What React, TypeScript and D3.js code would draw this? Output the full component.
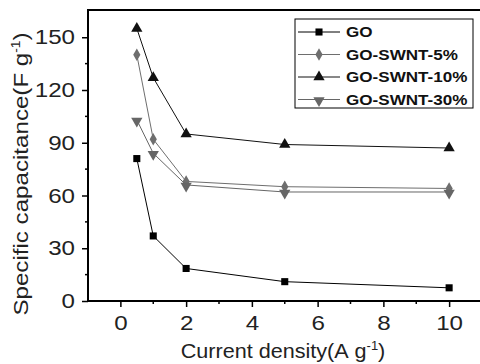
import { useEffect, useRef } from "react";
import * as d3 from "d3";

const currentDensity = [0.5, 1, 2, 5, 10];
const seriesNames = ["GO", "GO-SWNT-5%", "GO-SWNT-10%", "GO-SWNT-30%"];
const goValues = [81, 37, 18.5, 11, 7.5];
const swnt5Values = [140, 92, 68, 65, 64];
const swnt10Values = [155, 127, 95, 89, 87];
const swnt30Values = [103, 84, 66, 62, 62];
const yTicks = [0, 30, 60, 90, 120, 150];
const xTicks = [0, 2, 4, 6, 8, 10];

const App = () => {
    const svgRef = useRef<SVGSVGElement>(null);

    useEffect(() => {
        if (!svgRef.current) return;
        const svg = d3.select(svgRef.current);
        svg.selectAll("*").remove();

        const left = 88, right = 482, top = 10, bottom = 301;
        const font = "'Liberation Sans', Arial, sans-serif";
        const stretch = 1.15;

        const x = d3.scaleLinear().domain([-1, 11]).range([left - 0.5, right]);
        const y = d3.scaleLinear().domain([0, 165.5]).range([bottom, top]);

        const series = [
            { name: seriesNames[0], values: goValues, color: "#000", shape: "square" },
            { name: seriesNames[1], values: swnt5Values, color: "#6e6e6e", shape: "diamond" },
            { name: seriesNames[2], values: swnt10Values, color: "#111", shape: "triangle" },
            { name: seriesNames[3], values: swnt30Values, color: "#666", shape: "down" },
        ];

        const symbolFor = (shape: string) => {
            if (shape === "square") return d3.symbol(d3.symbolSquare, 50)();
            if (shape === "diamond") return d3.symbol(d3.symbolDiamond, 45)();
            return d3.symbol(d3.symbolTriangle, 55)();
        };
        const symbolTransform = (shape: string, cx: number, cy: number) =>
            shape === "down" ? `translate(${cx},${cy + 1}) rotate(180)` : `translate(${cx},${cy})`;

        // frame
        svg.append("line").attr("x1", left).attr("x2", 480).attr("y1", top).attr("y2", top)
            .attr("stroke", "#000").attr("stroke-width", 2);

        // y axis
        const yAxis = svg.append("g").attr("transform", `translate(${left},0)`);
        yAxis.call(d3.axisLeft(y).tickValues(yTicks).tickSize(6).tickPadding(0) as any);
        yAxis.select(".domain").remove();
        yAxis.selectAll(".tick line").attr("stroke-width", 1.5);
        yAxis.selectAll("text")
            .attr("x", null)
            .attr("transform", `translate(-13,0) scale(${stretch},1)`)
            .attr("font-family", font).attr("font-size", 21).attr("fill", "#222");
        yAxis.selectAll(".minor").data(d3.range(15, 165, 30)).enter().append("line")
            .attr("x1", -3).attr("x2", 0).attr("y1", d => y(d)).attr("y2", d => y(d))
            .attr("stroke", "#000").attr("stroke-width", 1.5);
        svg.append("line").attr("x1", left).attr("x2", left).attr("y1", top - 1).attr("y2", bottom + 1)
            .attr("stroke", "#000").attr("stroke-width", 2);

        // x axis
        const xAxis = svg.append("g").attr("transform", `translate(0,${bottom})`);
        xAxis.call(d3.axisBottom(x).tickValues(xTicks).tickSize(6).tickPadding(8) as any);
        xAxis.select(".domain").remove();
        xAxis.selectAll(".tick line").attr("stroke-width", 1.5);
        xAxis.selectAll("text")
            .attr("transform", `scale(${stretch},1)`)
            .attr("font-family", font).attr("font-size", 21).attr("fill", "#222");
        xAxis.selectAll(".minor").data(d3.range(1, 12, 2)).enter().append("line")
            .attr("x1", d => x(d)).attr("x2", d => x(d)).attr("y1", 0).attr("y2", 3)
            .attr("stroke", "#000").attr("stroke-width", 1.5);
        svg.append("line").attr("x1", left - 1).attr("x2", 480).attr("y1", bottom).attr("y2", bottom)
            .attr("stroke", "#000").attr("stroke-width", 2);

        // axis titles
        svg.append("text")
            .attr("transform", `translate(28,174) rotate(-90) scale(${stretch},1)`)
            .attr("text-anchor", "middle")
            .attr("font-family", font).attr("font-size", 21).attr("fill", "#222")
            .html("Specific capacitance(F&#160;g<tspan dy='-8' font-size='12'>-1</tspan><tspan dy='8'>)</tspan>");
        svg.append("text")
            .attr("transform", `translate(283,358) scale(1.08,1)`)
            .attr("text-anchor", "middle")
            .attr("font-family", font).attr("font-size", 20).attr("fill", "#222")
            .html("Current density(A&#160;g<tspan dy='-8' font-size='12'>-1</tspan><tspan dy='8'>)</tspan>");

        // series
        const line = d3.line<number>().x((_, i) => x(currentDensity[i])).y(d => y(d));
        series.forEach(s => {
            svg.append("path").datum(s.values).attr("d", line)
                .attr("fill", "none").attr("stroke", s.color).attr("stroke-width", 1);
            svg.selectAll(null).data(s.values).enter().append("path")
                .attr("d", symbolFor(s.shape))
                .attr("transform", (d, i) => symbolTransform(s.shape, x(currentDensity[i]), y(d)))
                .attr("fill", s.color);
        });

        // legend
        const lg = svg.append("g");
        lg.append("rect").attr("x", 295).attr("y", 19).attr("width", 178).attr("height", 89)
            .attr("fill", "#fff").attr("stroke", "#000").attr("stroke-width", 1);
        series.forEach((s, i) => {
            const cy = 32 + i * 22.5;
            lg.append("line").attr("x1", 298).attr("x2", 340).attr("y1", cy).attr("y2", cy)
                .attr("stroke", s.color).attr("stroke-width", 1);
            lg.append("path").attr("d", symbolFor(s.shape))
                .attr("transform", symbolTransform(s.shape, 319, cy)).attr("fill", s.color);
            lg.append("text")
                .attr("transform", `translate(346,${cy + 5}) scale(1.22,1)`)
                .attr("font-family", font).attr("font-size", 14).attr("font-weight", "bold").attr("fill", "#111")
                .text(s.name);
        });
    }, []);

    return (
        <svg ref={svgRef} width={480} height={364}
            style={{ position: "absolute", left: 0, top: 0, background: "#fff" }} />
    );
};

export default App;
